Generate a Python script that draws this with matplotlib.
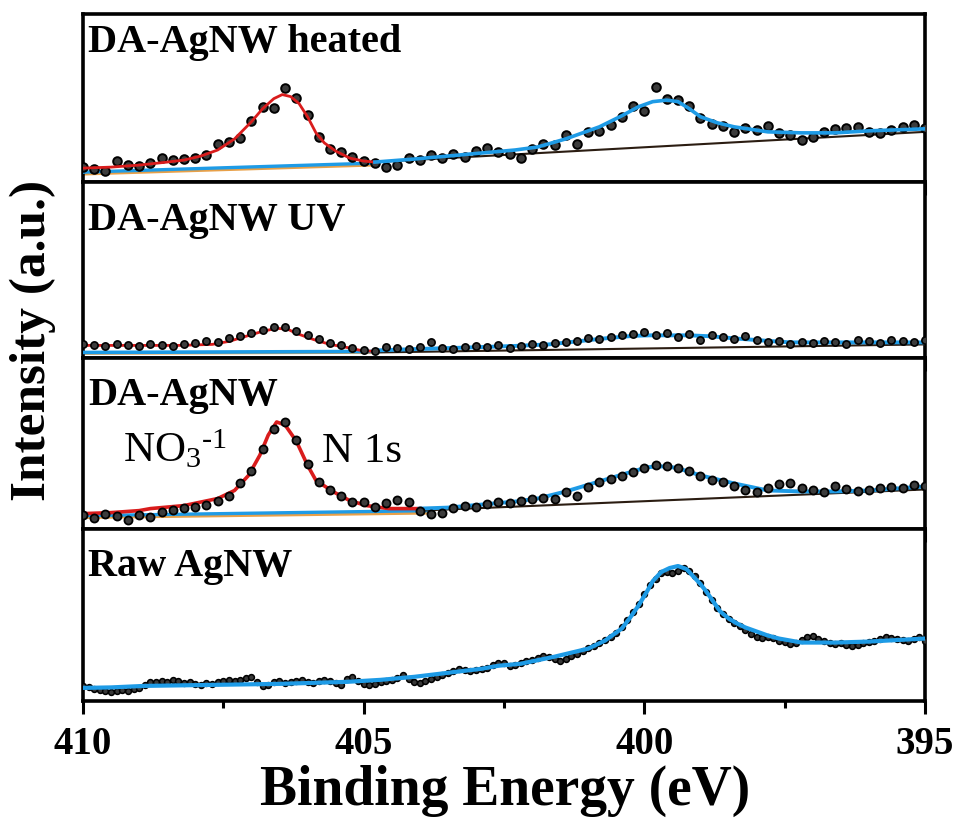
import matplotlib
matplotlib.use("Agg")
import matplotlib.pyplot as plt
from matplotlib.ticker import MultipleLocator

plt.rcParams['font.family'] = ['Liberation Serif', 'DejaVu Serif']
plt.rcParams['mathtext.fontset'] = 'custom'
plt.rcParams['mathtext.rm'] = 'Liberation Serif'
plt.rcParams['mathtext.it'] = 'Liberation Serif:italic'
plt.rcParams['mathtext.bf'] = 'Liberation Serif:bold'

# ---------------- data ----------------
panel_labels = ["DA-AgNW heated", "DA-AgNW UV", "DA-AgNW", "Raw AgNW"]
x_ticks = [410, 405, 400, 395]

# energy grid (0.2 eV) for the three upper spectra
energy_02 = [410.0, 409.8, 409.6, 409.4, 409.2, 409.0, 408.8, 408.6, 408.4, 408.2,
             408.0, 407.8, 407.6, 407.4, 407.2, 407.0, 406.8, 406.6, 406.4, 406.2,
             406.0, 405.8, 405.6, 405.4, 405.2, 405.0, 404.8, 404.6, 404.4, 404.2,
             404.0, 403.8, 403.6, 403.4, 403.2, 403.0, 402.8, 402.6, 402.4, 402.2,
             402.0, 401.8, 401.6, 401.4, 401.2, 401.0, 400.8, 400.6, 400.4, 400.2,
             400.0, 399.8, 399.6, 399.4, 399.2, 399.0, 398.8, 398.6, 398.4, 398.2,
             398.0, 397.8, 397.6, 397.4, 397.2, 397.0, 396.8, 396.6, 396.4, 396.2,
             396.0, 395.8, 395.6, 395.4, 395.2, 395.0]

heated_counts = [15, 13, 11, 21, 17, 16, 19, 24, 22, 23,
                 24, 27, 38, 40, 44, 61, 75, 74, 94, 84,
                 67, 45, 33, 30, 25, 21, 19, 15, 17, 24,
                 22, 27, 24, 28, 25, 31, 34, 30, 28, 24,
                 33, 38, 37, 47, 38, 50, 51, 57, 65, 76,
                 71, 95, 83, 82, 76, 64, 58, 56, 50, 54,
                 52, 56, 49, 47, 42, 45, 50, 53, 54, 55,
                 50, 49, 52, 55, 57, 54]

uv_counts = [13, 12, 11, 13, 12, 11, 13, 12, 11, 13,
             14, 16, 15, 19, 21, 24, 27, 30, 30, 26,
             22, 18, 14, 12, 9, 7, 6, 10, 9, 8,
             10, 15, 9, 8, 10, 11, 10, 12, 9, 11,
             13, 12, 14, 15, 16, 19, 18, 20, 22, 23,
             25, 22, 24, 20, 23, 17, 22, 20, 18, 21,
             17, 15, 16, 13, 15, 14, 16, 15, 13, 17,
             16, 14, 17, 16, 15, 17]

da_counts = [14, 11, 15, 13, 9, 14, 12, 17, 19, 21,
             22, 24, 28, 33, 45, 57, 79, 99, 106, 88,
             64, 46, 38, 33, 27, 27, 22, 26, 29, 27,
             18, 15, 16, 21, 23, 22, 25, 27, 26, 28,
             30, 31, 30, 36, 33, 41, 46, 49, 52, 56,
             60, 63, 62, 60, 57, 52, 48, 46, 42, 38,
             36, 40, 44, 45, 40, 38, 36, 42, 39, 37,
             38, 40, 41, 40, 43, 42]

# energy grid (0.1 eV) for the raw spectrum
energy_01 = [410.0, 409.9, 409.8, 409.7, 409.6, 409.5, 409.4, 409.3, 409.2, 409.1,
             409.0, 408.9, 408.8, 408.7, 408.6, 408.5, 408.4, 408.3, 408.2, 408.1,
             408.0, 407.9, 407.8, 407.7, 407.6, 407.5, 407.4, 407.3, 407.2, 407.1,
             407.0, 406.9, 406.8, 406.7, 406.6, 406.5, 406.4, 406.3, 406.2, 406.1,
             406.0, 405.9, 405.8, 405.7, 405.6, 405.5, 405.4, 405.3, 405.2, 405.1,
             405.0, 404.9, 404.8, 404.7, 404.6, 404.5, 404.4, 404.3, 404.2, 404.1,
             404.0, 403.9, 403.8, 403.7, 403.6, 403.5, 403.4, 403.3, 403.2, 403.1,
             403.0, 402.9, 402.8, 402.7, 402.6, 402.5, 402.4, 402.3, 402.2, 402.1,
             402.0, 401.9, 401.8, 401.7, 401.6, 401.5, 401.4, 401.3, 401.2, 401.1,
             401.0, 400.9, 400.8, 400.7, 400.6, 400.5, 400.4, 400.3, 400.2, 400.1,
             400.0, 399.9, 399.8, 399.7, 399.6, 399.5, 399.4, 399.3, 399.2, 399.1,
             399.0, 398.9, 398.8, 398.7, 398.6, 398.5, 398.4, 398.3, 398.2, 398.1,
             398.0, 397.9, 397.8, 397.7, 397.6, 397.5, 397.4, 397.3, 397.2, 397.1,
             397.0, 396.9, 396.8, 396.7, 396.6, 396.5, 396.4, 396.3, 396.2, 396.1,
             396.0, 395.9, 395.8, 395.7, 395.6, 395.5, 395.4, 395.3, 395.2, 395.1,
             395.0]

raw_counts = [15, 14, 12, 11, 10, 9, 10, 11, 10, 12,
              13, 16, 19, 19, 20, 19, 21, 20, 18, 19,
              17, 16, 18, 17, 19, 20, 21, 20, 21, 23,
              24, 19, 15, 16, 19, 20, 18, 19, 20, 21,
              19, 18, 20, 21, 20, 18, 16, 22, 24, 20,
              17, 16, 17, 19, 20, 21, 23, 26, 22, 19,
              18, 20, 22, 24, 26, 28, 30, 32, 31, 30,
              31, 32, 33, 36, 38, 38, 35, 36, 38, 40,
              41, 43, 45, 44, 42, 40, 42, 45, 47, 50,
              53, 55, 58, 61, 64, 68, 73, 80, 88, 96,
              106, 115, 121, 127, 128, 127, 129, 132, 129, 124,
              117, 108, 100, 92, 86, 81, 77, 74, 70, 67,
              64, 63, 64, 63, 60, 59, 57, 58, 61, 64,
              65, 62, 60, 58, 57, 58, 56, 55, 56, 58,
              59, 60, 62, 64, 63, 62, 61, 60, 62, 64,
              60]

# fitted envelopes (NO3- component region: red; N 1s region: blue)
heated_no3_e = [410.0, 409.5, 409.0, 408.5, 408.2, 407.9, 407.6, 407.3, 407.0, 406.8,
                406.6, 406.45, 406.3, 406.15, 406.0, 405.85, 405.7, 405.5, 405.25, 405.0, 404.8]
heated_no3_i = [14, 15, 17, 20, 22, 26, 32, 43, 60, 73,
                83, 87, 85, 78, 65, 49, 39, 31, 24, 21, 20]
heated_n1s_e = [404.8, 404.1, 403.5, 402.9, 402.3, 401.9, 401.4, 400.8, 400.4, 400.1,
                399.85, 399.6, 399.4, 399.2, 399.0, 398.7, 398.4, 397.8, 397.2, 396.6, 396.0, 395.0]
heated_n1s_i = [20, 23, 26, 29, 32, 35, 43, 55, 66, 75,
                80, 81.5, 80, 73, 65, 59, 55, 50, 49, 49, 51, 53]
heated_bg_e, heated_bg_i = [404.8, 395.0], [20, 50]
heated_base_e, heated_base_i, heated_base2_i = [410.0, 404.8], [10, 19], [8, 17]

uv_no3_e = [410.0, 409.0, 408.3, 407.7, 407.4, 407.1, 406.8, 406.55, 406.35, 406.2,
            405.9, 405.6, 405.3, 405.05, 404.8]
uv_no3_i = [12, 12, 12, 13, 16, 21, 26, 29, 28, 24, 18, 13, 10, 7, 6]
uv_n1s_e = [404.8, 404.0, 403.1, 402.3, 401.7, 401.2, 400.7, 400.2, 399.9, 399.2,
            398.8, 398.4, 397.8, 397.4, 396.2, 395.0]
uv_n1s_i = [7, 8.5, 10, 11.5, 13, 16, 19, 21.5, 22, 22, 21, 19, 16.5, 15, 15, 15]
uv_bg_e, uv_bg_i = [404.8, 395.0], [5, 13]
uv_base_e, uv_base_i, uv_base2_i = [410.0, 404.8], [5, 6], [4, 5]

da_no3_e = [410.0, 409.5, 409.0, 408.8, 408.2, 407.6, 407.3, 407.05, 406.85, 406.7,
            406.55, 406.4, 406.2, 406.0, 405.85, 405.55, 405.25, 404.95, 404.55, 404.2, 404.0]
da_no3_i = [15, 16, 18, 20, 23, 30, 38, 53, 73, 93,
            106, 103, 87, 63, 48, 37, 28, 23, 20, 20, 20]
da_n1s_e = [404.0, 403.5, 402.9, 402.3, 401.9, 401.4, 400.8, 400.2, 399.95, 399.75,
            399.55, 399.4, 399.0, 398.4, 397.8, 397.2, 396.6, 396.0, 395.0]
da_n1s_i = [20, 21, 24, 27, 30, 37, 47, 57, 61, 62, 61.5, 60, 53, 45, 38, 37, 37, 38, 42]
da_bg_e, da_bg_i = [404.0, 395.0], [18, 39]
da_base_e, da_base_i, da_base2_i = [410.0, 403.8], [13, 18], [11, 15.5]

raw_fit_e = [410.0, 409.5, 408.9, 407.7, 406.5, 405.3, 404.7, 404.1, 403.5, 402.9,
             402.6, 402.2, 401.6, 401.0, 400.7, 400.4, 400.25, 400.1, 399.95, 399.85,
             399.7, 399.55, 399.4, 399.25, 399.15, 399.0, 398.9, 398.75, 398.65, 398.5,
             398.35, 398.2, 398.05, 397.8, 397.6, 397.2, 396.6, 396.0, 395.0]
raw_fit_i = [13, 13.5, 15, 16, 17, 19, 21, 24, 28, 32,
             35, 37, 44, 52, 60, 72, 83, 95, 109, 119,
             128, 132, 134, 131, 125, 116, 109, 97, 89, 82,
             77, 73, 70, 65, 62, 58, 58, 59, 62]

# ---------------- figure ----------------
RED = '#d91c1c'
BLUE = '#1e9be6'
ORANGE = '#e8a048'
BGC = '#2b1d12'

heights = [167, 174, 170, 171]
fig = plt.figure(figsize=(9.6, 8.2), dpi=100)
gs = fig.add_gridspec(4, 1, height_ratios=heights, hspace=0,
                      left=83/960, right=925/960, top=1-15/820, bottom=1-702/820)
axes = [fig.add_subplot(gs[i]) for i in range(4)]

label_offsets = [37, 46, 46, 46]

def style(ax, h, idx):
    ax.set_xlim(410, 395)
    ax.set_ylim(0, h)
    ax.set_yticks([])
    ax.xaxis.set_major_locator(MultipleLocator(5))
    ax.xaxis.set_minor_locator(MultipleLocator(2.5))
    ax.tick_params(axis='x', which='both', direction='out', top=False, bottom=True,
                   width=2.2, color='black')
    ax.tick_params(axis='x', which='major', length=9.5)
    ax.tick_params(axis='x', which='minor', length=5)
    for s in ax.spines.values():
        s.set_linewidth(2.6)
    if idx < 3:
        ax.tick_params(axis='x', labelbottom=False)
    else:
        ax.set_xticks(x_ticks)
        ax.set_xticklabels([str(t) for t in x_ticks], fontsize=28, fontweight='bold')
        ax.tick_params(axis='x', which='major', pad=8)
    ax.text(5/842, 1 - label_offsets[idx]/h, panel_labels[idx], transform=ax.transAxes,
            ha='left', va='baseline', fontsize=29, fontweight='bold')

mk = dict(marker='o', linestyle='none', mfc='#3c3c3c', mec='black', zorder=5)

# panel 1 : heated
ax = axes[0]
ax.plot(heated_base_e, heated_base2_i, color=ORANGE, lw=2.0, zorder=2)
ax.plot(heated_base_e, heated_base_i, color=BLUE, lw=2.4, zorder=3)
ax.plot(heated_bg_e, heated_bg_i, color=BGC, lw=1.5, zorder=3)
ax.plot(energy_02, heated_counts, ms=6.2, mew=1.4, **mk)
ax.plot(heated_no3_e, heated_no3_i, color=RED, lw=2.0, zorder=6)
ax.plot(heated_n1s_e, heated_n1s_i, color=BLUE, lw=2.6, zorder=6)

# panel 2 : UV
ax = axes[1]
ax.plot(uv_base_e, uv_base2_i, color=ORANGE, lw=2.0, zorder=2)
ax.plot(uv_base_e, uv_base_i, color=BLUE, lw=2.6, zorder=3)
ax.plot(uv_bg_e, uv_bg_i, color=BGC, lw=1.5, zorder=3)
ax.plot(uv_no3_e, uv_no3_i, color=RED, lw=2.0, zorder=4)
ax.plot(uv_n1s_e, uv_n1s_i, color=BLUE, lw=2.8, zorder=4)
ax.plot(energy_02, uv_counts, ms=5.2, mew=1.2, **mk)

# panel 3 : DA-AgNW
ax = axes[2]
ax.plot(da_base_e, da_base2_i, color=ORANGE, lw=2.0, zorder=2)
ax.plot(da_base_e, da_base_i, color=BLUE, lw=2.4, zorder=3)
ax.plot(da_bg_e, da_bg_i, color=BGC, lw=1.5, zorder=3)
ax.plot(da_no3_e, da_no3_i, color=RED, lw=2.6, zorder=4)
ax.plot(da_n1s_e, da_n1s_i, color=BLUE, lw=2.8, zorder=4)
ax.plot(energy_02, da_counts, ms=5.8, mew=1.3, **mk)
ax.text(409.29, 67, r'NO$_{3}$$^{\text{-1}}$', fontsize=31, ha='left', va='baseline')
ax.text(405.74, 67, 'N 1s', fontsize=31, ha='left', va='baseline')

# panel 4 : raw
ax = axes[3]
ax.plot(energy_01, raw_counts, ms=4.2, mew=1.1, marker='o', linestyle='none',
        mfc='#383838', mec='black', zorder=3)
ax.plot(raw_fit_e, raw_fit_i, color=BLUE, lw=3.0, zorder=4)

for i, ax in enumerate(axes):
    style(ax, heights[i], i)

fig.text(33/960, 1-340/820, 'Intensity (a.u.)', rotation=90, ha='center', va='center',
         fontsize=37, fontweight='bold')
fig.text(505/960, 1-805/820, 'Binding Energy (eV)', ha='center', va='baseline',
         fontsize=40, fontweight='bold')

fig.savefig('out.png', dpi=100)
